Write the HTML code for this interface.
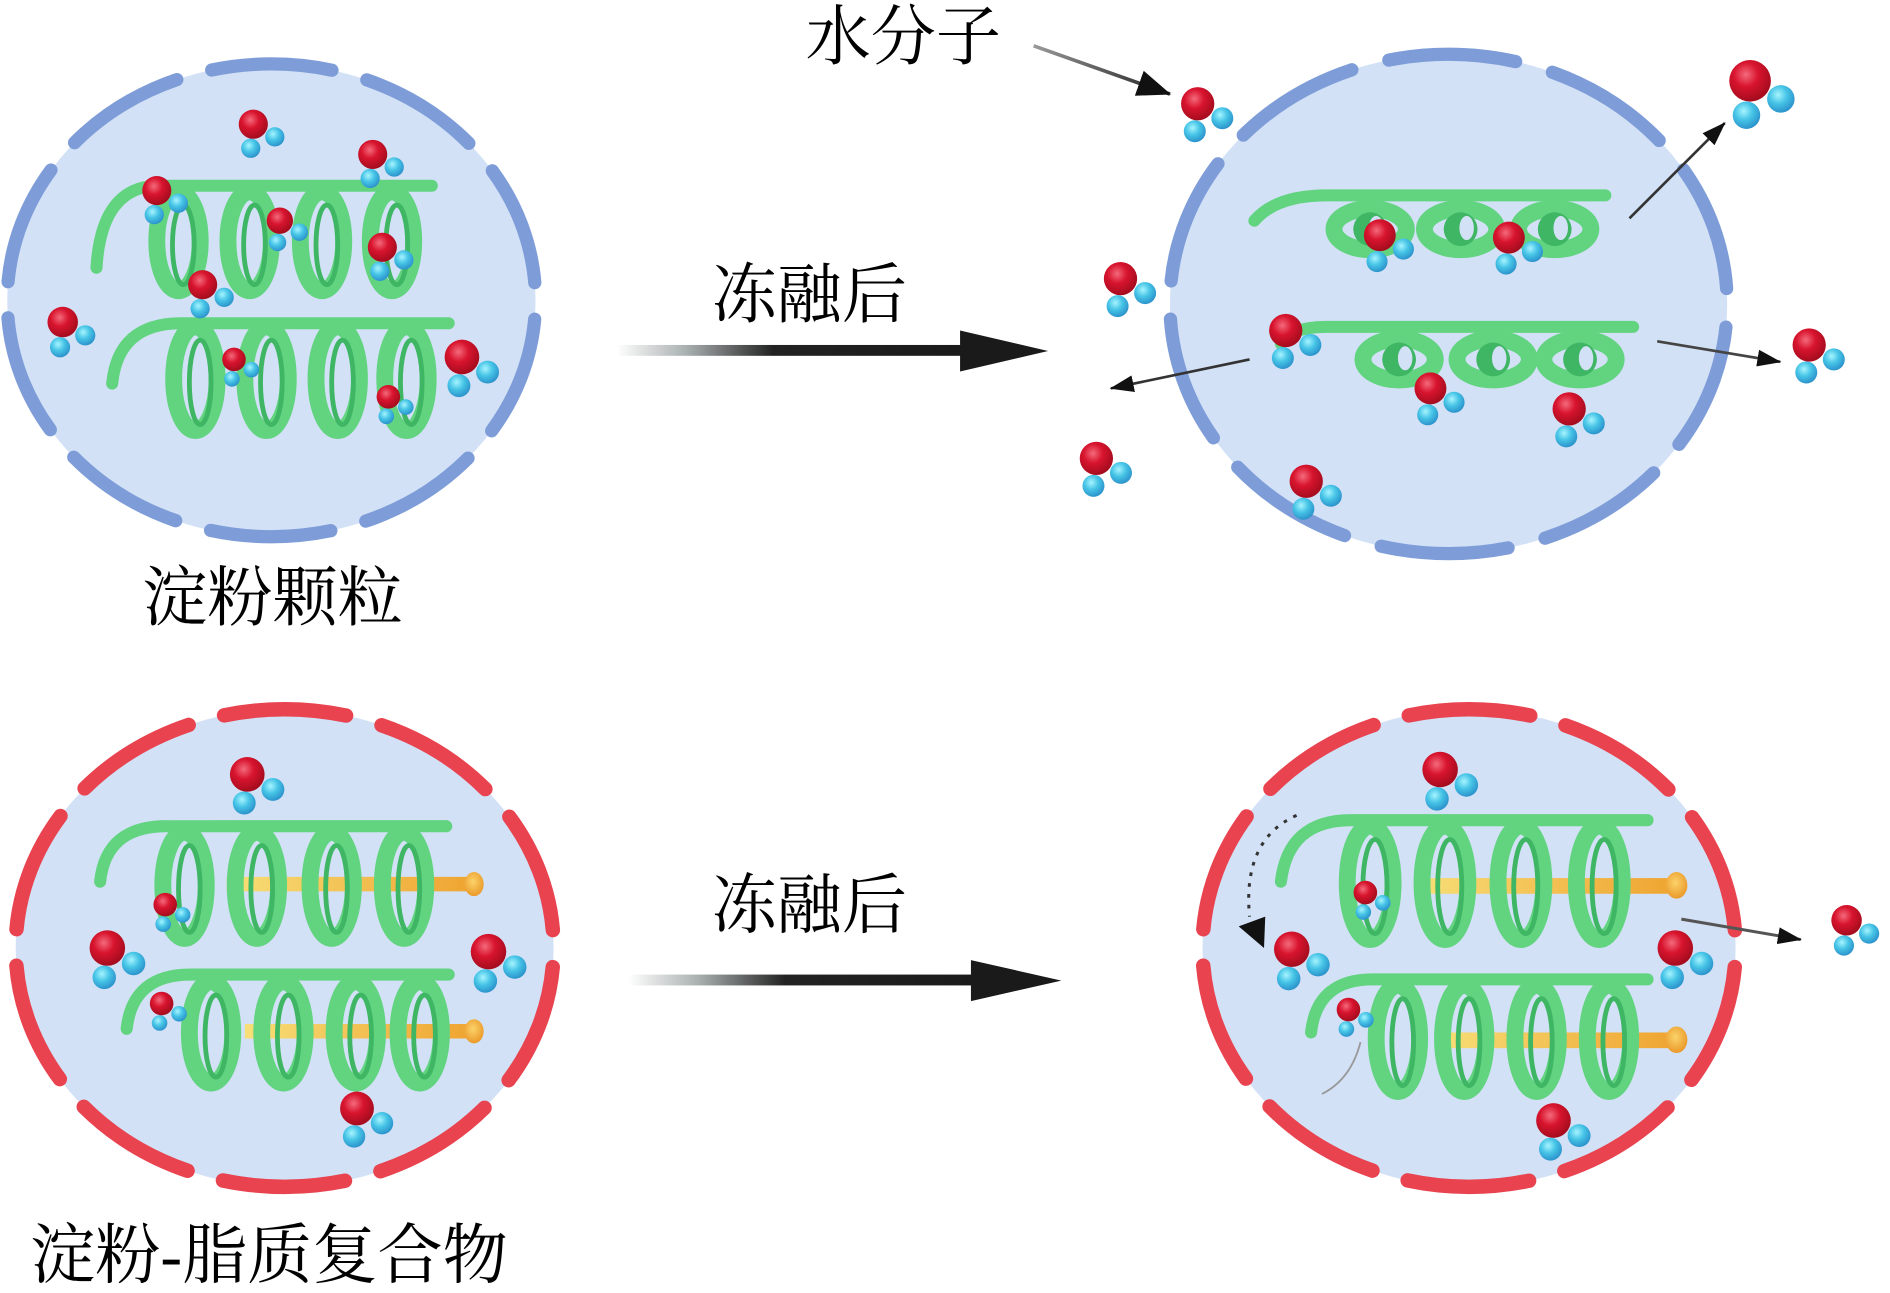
<!DOCTYPE html>
<html><head><meta charset="utf-8"><style>
html,body{margin:0;padding:0;background:#fff;}
svg{display:block;}
</style></head><body>
<svg width="1890" height="1293" viewBox="0 0 1567 1072" preserveAspectRatio="none" xmlns="http://www.w3.org/2000/svg">
<defs>
<radialGradient id="gr" cx="40%" cy="35%" r="65%"><stop offset="0" stop-color="#f46a7c"/><stop offset="0.45" stop-color="#d8142e"/><stop offset="1" stop-color="#a50c1e"/></radialGradient>
<radialGradient id="gc" cx="40%" cy="35%" r="65%"><stop offset="0" stop-color="#a6f4ff"/><stop offset="0.5" stop-color="#46c4e6"/><stop offset="1" stop-color="#2c94cc"/></radialGradient>
<g id="mol">
<circle cx="-2" cy="19" r="7.6" fill="url(#gc)"/>
<circle cx="17" cy="10" r="7.6" fill="url(#gc)"/>
<circle cx="0" cy="0" r="11.5" fill="url(#gr)"/>
</g>
<linearGradient id="rod" x1="0" x2="1" y1="0" y2="0"><stop offset="0" stop-color="#f7df78"/><stop offset="1" stop-color="#efa532"/></linearGradient>
<radialGradient id="ball" cx="45%" cy="40%" r="60%"><stop offset="0" stop-color="#fbd36a"/><stop offset="1" stop-color="#eb9a2a"/></radialGradient>
<linearGradient id="big1" gradientUnits="userSpaceOnUse" x1="511" y1="0" x2="800" y2="0"><stop offset="0" stop-color="#ffffff"/><stop offset="0.2" stop-color="#aab0b0"/><stop offset="0.45" stop-color="#222"/><stop offset="1" stop-color="#1a1a1a"/></linearGradient>
<linearGradient id="big2" gradientUnits="userSpaceOnUse" x1="521" y1="0" x2="810" y2="0"><stop offset="0" stop-color="#ffffff"/><stop offset="0.2" stop-color="#aab0b0"/><stop offset="0.45" stop-color="#222"/><stop offset="1" stop-color="#1a1a1a"/></linearGradient>
<marker id="ah" viewBox="0 0 20 14" refX="19" refY="7" markerWidth="20" markerHeight="14" markerUnits="userSpaceOnUse" orient="auto"><path d="M0 0 L20 7 L0 14 Z" fill="#111"/></marker>
<marker id="ahb" viewBox="0 0 28 22" refX="27" refY="11" markerWidth="28" markerHeight="22" markerUnits="userSpaceOnUse" orient="auto"><path d="M0 0 L28 11 L0 22 Z" fill="#111"/></marker>
<linearGradient id="ta" gradientUnits="userSpaceOnUse" x1="857" y1="38" x2="970" y2="78"><stop offset="0" stop-color="#999"/><stop offset="1" stop-color="#222"/></linearGradient>
</defs>

<!-- cells -->
<ellipse cx="225" cy="249" rx="219" ry="196" fill="#d2e1f6"/>
<ellipse cx="225" cy="249" rx="219" ry="196" fill="none" stroke="#7e9dd8" stroke-width="11" pathLength="1000" stroke-dasharray="77 23" stroke-dashoffset="88" stroke-linecap="round"/>
<ellipse cx="1201" cy="252" rx="231" ry="207" fill="#d2e1f6"/>
<ellipse cx="1201" cy="252" rx="231" ry="207" fill="none" stroke="#7e9dd8" stroke-width="11" pathLength="1000" stroke-dasharray="77 23" stroke-dashoffset="86" stroke-linecap="round"/>
<ellipse cx="236" cy="786" rx="223" ry="198" fill="#d2e1f6"/>
<ellipse cx="236" cy="786" rx="223" ry="198" fill="none" stroke="#e8434f" stroke-width="12" pathLength="1000" stroke-dasharray="77 23" stroke-dashoffset="88" stroke-linecap="round"/>
<ellipse cx="1218" cy="786" rx="221" ry="198" fill="#d2e1f6"/>
<ellipse cx="1218" cy="786" rx="221" ry="198" fill="none" stroke="#e8434f" stroke-width="12" pathLength="1000" stroke-dasharray="77 23" stroke-dashoffset="88" stroke-linecap="round"/>

<!-- helices top-left -->
<g fill="none" stroke-linecap="round">
<g stroke="#62d480" stroke-width="10">
<path d="M80 222 Q84 154 132 154 L358 154"/>
<path d="M93 318 Q98 268 150 268 L372 268"/>
</g>
<g stroke="#62d480" stroke-width="14">
<ellipse cx="148" cy="200" rx="18" ry="41"/><ellipse cx="207" cy="200" rx="18" ry="41"/><ellipse cx="267" cy="200" rx="18" ry="41"/><ellipse cx="325" cy="200" rx="18" ry="41"/>
<ellipse cx="162" cy="314" rx="18" ry="43"/><ellipse cx="221" cy="314" rx="18" ry="43"/><ellipse cx="280" cy="314" rx="18" ry="43"/><ellipse cx="337" cy="314" rx="18" ry="43"/>
</g>
<g stroke="#3fb664" stroke-width="4">
<ellipse cx="152" cy="203" rx="9" ry="33"/><ellipse cx="211" cy="203" rx="9" ry="33"/><ellipse cx="271" cy="203" rx="9" ry="33"/><ellipse cx="329" cy="203" rx="9" ry="33"/>
<ellipse cx="166" cy="317" rx="9" ry="35"/><ellipse cx="225" cy="317" rx="9" ry="35"/><ellipse cx="284" cy="317" rx="9" ry="35"/><ellipse cx="341" cy="317" rx="9" ry="35"/>
</g>
</g>

<!-- helices top-right -->
<g fill="none" stroke-linecap="round">
<g stroke="#62d480" stroke-width="10">
<path d="M1040 183 Q1058 162 1100 162 L1331 162"/>
<path d="M1062 285 Q1070 271 1100 271 L1354 271"/>
</g>
<g stroke="#62d480" stroke-width="14">
<ellipse cx="1136" cy="190" rx="30" ry="17"/><ellipse cx="1211" cy="190" rx="30" ry="17"/><ellipse cx="1289" cy="190" rx="30" ry="17"/>
<ellipse cx="1160" cy="298" rx="30" ry="17"/><ellipse cx="1238" cy="298" rx="30" ry="17"/><ellipse cx="1310" cy="298" rx="30" ry="17"/>
</g>
<g fill="#3fb664">
<ellipse cx="1136" cy="190" rx="14" ry="14"/><ellipse cx="1211" cy="190" rx="14" ry="14"/><ellipse cx="1289" cy="190" rx="14" ry="14"/>
<ellipse cx="1160" cy="298" rx="14" ry="14"/><ellipse cx="1238" cy="298" rx="14" ry="14"/><ellipse cx="1310" cy="298" rx="14" ry="14"/>
</g>
<g fill="#d2e1f6">
<ellipse cx="1141" cy="189" rx="6" ry="10"/><ellipse cx="1216" cy="189" rx="6" ry="10"/><ellipse cx="1294" cy="189" rx="6" ry="10"/>
<ellipse cx="1165" cy="297" rx="6" ry="10"/><ellipse cx="1243" cy="297" rx="6" ry="10"/><ellipse cx="1315" cy="297" rx="6" ry="10"/>
</g>
</g>

<!-- rods -->
<rect x="188" y="727" width="200" height="12" fill="url(#rod)"/>
<ellipse cx="393" cy="733" rx="8" ry="10" fill="url(#ball)"/>
<rect x="203" y="849" width="185" height="12" fill="url(#rod)"/>
<ellipse cx="393" cy="855" rx="8" ry="10" fill="url(#ball)"/>
<rect x="1174" y="728" width="210" height="13" fill="url(#rod)"/>
<ellipse cx="1390" cy="734" rx="9" ry="11" fill="url(#ball)"/>
<rect x="1191" y="856" width="193" height="13" fill="url(#rod)"/>
<ellipse cx="1390" cy="862" rx="9" ry="11" fill="url(#ball)"/>

<!-- helices bottom -->
<g fill="none" stroke-linecap="round">
<g stroke="#62d480" stroke-width="10">
<path d="M83 731 Q88 684 140 685 L370 685"/>
<path d="M105 853 Q110 807 160 808 L372 808"/>
<path d="M1062 731 Q1068 680 1120 680 L1366 680"/>
<path d="M1087 856 Q1092 811 1140 812 L1366 812"/>
</g>
<g stroke="#62d480" stroke-width="14">
<ellipse cx="153" cy="734" rx="18" ry="44"/><ellipse cx="213" cy="734" rx="18" ry="44"/><ellipse cx="275" cy="734" rx="18" ry="44"/><ellipse cx="335" cy="734" rx="18" ry="44"/>
<ellipse cx="175" cy="856" rx="18" ry="42"/><ellipse cx="235" cy="856" rx="18" ry="42"/><ellipse cx="295" cy="856" rx="18" ry="42"/><ellipse cx="348" cy="856" rx="18" ry="42"/>
<ellipse cx="1136" cy="732" rx="19" ry="47"/><ellipse cx="1198" cy="732" rx="19" ry="47"/><ellipse cx="1261" cy="732" rx="19" ry="47"/><ellipse cx="1326" cy="732" rx="19" ry="47"/>
<ellipse cx="1159" cy="861" rx="18" ry="44"/><ellipse cx="1214" cy="861" rx="18" ry="44"/><ellipse cx="1274" cy="861" rx="18" ry="44"/><ellipse cx="1334" cy="861" rx="18" ry="44"/>
</g>
<g stroke="#3fb664" stroke-width="4">
<ellipse cx="157" cy="737" rx="9" ry="36"/><ellipse cx="217" cy="737" rx="9" ry="36"/><ellipse cx="279" cy="737" rx="9" ry="36"/><ellipse cx="339" cy="737" rx="9" ry="36"/>
<ellipse cx="179" cy="859" rx="9" ry="34"/><ellipse cx="239" cy="859" rx="9" ry="34"/><ellipse cx="299" cy="859" rx="9" ry="34"/><ellipse cx="352" cy="859" rx="9" ry="34"/>
<ellipse cx="1140" cy="735" rx="10" ry="39"/><ellipse cx="1202" cy="735" rx="10" ry="39"/><ellipse cx="1265" cy="735" rx="10" ry="39"/><ellipse cx="1330" cy="735" rx="10" ry="39"/>
<ellipse cx="1163" cy="864" rx="9" ry="36"/><ellipse cx="1218" cy="864" rx="9" ry="36"/><ellipse cx="1278" cy="864" rx="9" ry="36"/><ellipse cx="1338" cy="864" rx="9" ry="36"/>
</g>
</g>

<!-- molecules top-left -->
<use href="#mol" transform="translate(210,103) scale(1.05)"/>
<use href="#mol" transform="translate(309,128) scale(1.05)"/>
<use href="#mol" transform="translate(130,158) scale(1.05)"/>
<use href="#mol" transform="translate(232,183) scale(0.95)"/>
<use href="#mol" transform="translate(317,205) scale(1.05)"/>
<use href="#mol" transform="translate(168,236) scale(1.05)"/>
<use href="#mol" transform="translate(52,267) scale(1.1)"/>
<use href="#mol" transform="translate(194,298) scale(0.85)"/>
<use href="#mol" transform="translate(383,296) scale(1.25)"/>
<use href="#mol" transform="translate(322,329) scale(0.85)"/>
<!-- molecules top-right -->
<use href="#mol" transform="translate(993,86) scale(1.2)"/>
<use href="#mol" transform="translate(1451,67) scale(1.5)"/>
<use href="#mol" transform="translate(1144,195) scale(1.15)"/>
<use href="#mol" transform="translate(1251,197) scale(1.15)"/>
<use href="#mol" transform="translate(929,231) scale(1.2)"/>
<use href="#mol" transform="translate(1066,274) scale(1.2)"/>
<use href="#mol" transform="translate(1186,322) scale(1.15)"/>
<use href="#mol" transform="translate(1301,339) scale(1.2)"/>
<use href="#mol" transform="translate(1500,286) scale(1.2)"/>
<use href="#mol" transform="translate(909,380) scale(1.2)"/>
<use href="#mol" transform="translate(1083,399) scale(1.2)"/>
<!-- molecules bottom-left -->
<use href="#mol" transform="translate(205,642) scale(1.25)"/>
<use href="#mol" transform="translate(137,750) scale(0.85)"/>
<use href="#mol" transform="translate(89,786) scale(1.28)"/>
<use href="#mol" transform="translate(405,789) scale(1.28)"/>
<use href="#mol" transform="translate(134,832) scale(0.85)"/>
<use href="#mol" transform="translate(296,919) scale(1.22)"/>
<!-- molecules bottom-right -->
<use href="#mol" transform="translate(1194,638) scale(1.28)"/>
<use href="#mol" transform="translate(1132,740) scale(0.85)"/>
<use href="#mol" transform="translate(1071,787) scale(1.28)"/>
<use href="#mol" transform="translate(1389,786) scale(1.28)"/>
<use href="#mol" transform="translate(1118,837) scale(0.85)"/>
<use href="#mol" transform="translate(1288,929) scale(1.25)"/>
<use href="#mol" transform="translate(1531,763) scale(1.1)"/>

<!-- big arrows -->
<rect x="511" y="286" width="290" height="9" fill="url(#big1)"/>
<polygon points="796,274 869,291 796,308" fill="#1a1a1a"/>
<rect x="521" y="808" width="290" height="9" fill="url(#big2)"/>
<polygon points="805,796 880,813 805,830" fill="#1a1a1a"/>

<!-- thin arrows -->
<line x1="857" y1="38" x2="970" y2="78" stroke="url(#ta)" stroke-width="3" marker-end="url(#ahb)"/>
<line x1="1351" y1="181" x2="1430" y2="102" stroke="#333" stroke-width="2.2" marker-end="url(#ah)"/>
<line x1="1036" y1="298" x2="921" y2="322" stroke="#333" stroke-width="2.2" marker-end="url(#ah)"/>
<line x1="1374" y1="283" x2="1476" y2="300" stroke="#444" stroke-width="2.2" marker-end="url(#ah)"/>
<line x1="1394" y1="762" x2="1493" y2="779" stroke="#555" stroke-width="2.5" marker-end="url(#ah)"/>
<path d="M1075 676 Q1030 696 1036 760" fill="none" stroke="#333" stroke-width="2.5" stroke-dasharray="3 6"/>
<polygon points="1027,768 1049,760 1048,786" fill="#111"/>
<path d="M1128 864 Q1120 895 1096 907" fill="none" stroke="#999" stroke-width="1.5"/>

<!-- labels -->
<g font-family="'Liberation Serif','Noto Serif CJK SC','Noto Sans CJK SC',serif" fill="#000" font-size="54">
<text x="668" y="49">水分子</text>
<text x="590" y="263">冻融后</text>
<text x="590" y="769">冻融后</text>
<text x="118" y="514">淀粉颗粒</text>
<text x="25" y="1059">淀粉-脂质复合物</text>
</g>
</svg>
</body></html>
